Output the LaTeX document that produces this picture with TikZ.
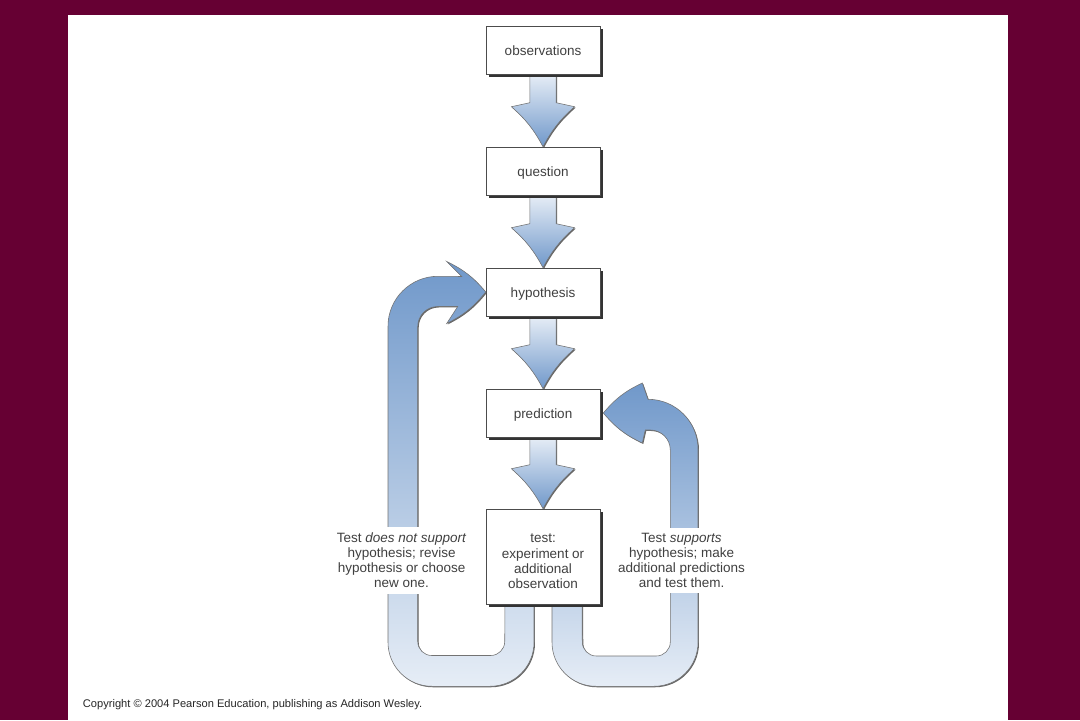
\documentclass[tikz,border=0pt]{standalone}
\usepackage{fontspec}
\setmainfont{Liberation Sans}
\usetikzlibrary{shapes.geometric, arrows, calc, shadows}
\definecolor{maroon}{RGB}{102,0,51}
\definecolor{arrowdark}{RGB}{112,152,202}
\definecolor{arrowlight}{RGB}{230,237,246}
\definecolor{textgrey}{RGB}{64,64,64}
\pgfdeclarelayer{bg}
\pgfsetlayers{bg,main}
\tikzstyle{boxframe} = [rectangle, minimum width=2.85cm, align=center, draw=black!70, fill=white, text=textgrey, drop shadow={shadow xshift=2pt, shadow yshift=-2pt, fill=black!80, opacity=1}]
\tikzstyle{stepbox} = [boxframe, minimum height=1.2cm, text height=7.4pt, text depth=0pt]
\tikzstyle{testbox} = [boxframe, minimum height=2.375cm]
\tikzstyle{sidenote} = [rectangle, fill=white, align=center, text=textgrey, inner sep=4pt]
\tikzstyle{blockdown} = [draw=black!55, line width=0.4pt, top color=arrowlight, bottom color=arrowdark, drop shadow={shadow xshift=0.7pt, shadow yshift=-0.7pt, fill=black!60, opacity=1}]
\tikzstyle{looparrow} = [draw=black!55, line width=0.4pt, top color=arrowdark, bottom color=arrowlight, drop shadow={shadow xshift=0.7pt, shadow yshift=-0.7pt, fill=black!60, opacity=1}]
\newcommand{\flowarrow}[2]{%
  \path[blockdown] ($(#1.south)+(-0.33,0)$) -- ($(#2.north)+(-0.33,1.1)$) -- ($(#2.north)+(-0.79,1.0)$)
    to[bend left=10] (#2.north) to[bend left=10] ($(#2.north)+(0.79,1.0)$)
    -- ($(#2.north)+(0.33,1.1)$) -- ($(#1.south)+(0.33,0)$) -- cycle;}

\begin{document}
\begin{tikzpicture}[node distance=3.025cm, font=\fontsize{9.6}{10.7}\selectfont]
	\useasboundingbox (0,0) rectangle (27,18);
	\node (n0) [stepbox] at (13.575,16.75) {observations};
	\node (n1) [stepbox, below of=n0] {question};
	\node (n2) [stepbox, below of=n1] {hypothesis};
	\node (n3) [stepbox, below of=n2] {prediction};
	\node (n4) [testbox, below of=n3, yshift=-0.5625cm] {\raisebox{-4.3pt}[\height][\depth]{\begin{tabular}{@{}c@{}}test:\\experiment or\\additional\\observation\end{tabular}}};
	\node (n5) [sidenote, left of=n4, xshift=-0.51cm, yshift=-0.1cm] {Test \textit{does not support}\\hypothesis; revise\\hypothesis or choose\\new one.};
	\node (n6) [sidenote, right of=n4, xshift=0.44cm, yshift=-0.1cm] {Test \textit{supports}\\hypothesis; make\\additional predictions\\and test them.};
	\node (n7) [anchor=west, text=black!85, font=\fontsize{7.9}{9}\selectfont] at (1.95,0.375) {Copyright \textcopyright{} 2004 Pearson Education, publishing as Addison Wesley.};
	
	\begin{pgfonlayer}{bg}
	\fill [maroon] (0,0) rectangle (27,18);
	\fill [white] (1.7,0) rectangle (25.2,17.625);
	
	\flowarrow{n0}{n1}
	\flowarrow{n1}{n2}
	\flowarrow{n2}{n3}
	\flowarrow{n3}{n4}
	
	% test -> hypothesis
	\draw [looparrow] ($(n4.south)+(-0.225,0.125)$) -- ++(0,-1.075) arc[start angle=0, end angle=-90, radius=1.1cm]
		-- ++(-1.45,0) arc[start angle=270, end angle=180, radius=1.1cm]
		-- ++(0,7.9) arc[start angle=180, end angle=90, radius=1.25cm]
		-- ($(n2.west)+(-0.6,0.3875)$) -- ($(n2.west)+(-0.975,0.7625)$)
		to[bend left=12] (n2.west) to[bend left=12] ($(n2.west)+(-0.975,-0.7875)$)
		-- ($(n2.west)+(-0.7,-0.3625)$) -- ($(n2.west)+(-1.2,-0.3625)$) arc[start angle=90, end angle=180, radius=0.5cm]
		-- ++(0,-7.875) arc[start angle=180, end angle=270, radius=0.35cm]
		-- ++(1.475,0) arc[start angle=270, end angle=360, radius=0.35cm]
		-- ($(n4.south)+(-0.95,0.125)$) -- cycle;
	
	% test -> prediction
	\draw [looparrow] ($(n4.south)+(0.225,0.125)$) -- ++(0,-1.075) arc[start angle=180, end angle=270, radius=1.1cm]
		-- ++(1.45,0) arc[start angle=270, end angle=360, radius=1.1cm]
		-- ++(0,4.825) arc[start angle=0, end angle=90, radius=1.25cm]
		-- ($(n3.east)+(1.05,0.75)$)
		to[bend right=12] ($(n3.east)+(0.075,0)$) to[bend right=12] ($(n3.east)+(1.05,-0.75)$)
		-- ($(n3.east)+(1.125,-0.425)$) -- ($(n3.east)+(1.25,-0.425)$) arc[start angle=90, end angle=0, radius=0.5cm]
		-- ++(0,-4.8) arc[start angle=0, end angle=-90, radius=0.35cm]
		-- ++(-1.5,0) arc[start angle=270, end angle=180, radius=0.35cm]
		-- ($(n4.south)+(0.975,0.125)$) -- cycle;
	\end{pgfonlayer}
\end{tikzpicture}
\end{document}
